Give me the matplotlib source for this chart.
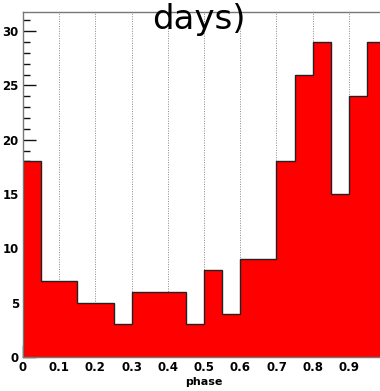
import numpy as np
import matplotlib
matplotlib.use("Agg")
import matplotlib.pyplot as plt
from matplotlib.ticker import MultipleLocator

# phase bins (width 0.05) and counts
bin_edges = np.round(np.arange(0, 1.0001, 0.05), 2)
counts = [18, 7, 7, 5, 5, 3, 6, 6, 6, 3, 8, 4, 9, 9, 18, 26, 29, 15, 24, 29]
x_ticks = [0, 0.1, 0.2, 0.3, 0.4, 0.5, 0.6, 0.7, 0.8, 0.9]
x_tick_labels = ["0", "0.1", "0.2", "0.3", "0.4", "0.5", "0.6", "0.7", "0.8", "0.9"]
y_ticks = [0, 5, 10, 15, 20, 25, 30]

fig = plt.figure(figsize=(3.8, 3.91), dpi=100)
ax = fig.add_axes([0.0605, 0.087, 0.953, 0.882])

ax.stairs(counts, bin_edges, fill=True, color="#ff0000", zorder=2)
ax.stairs(counts, bin_edges, color="#222222", linewidth=1.0, zorder=3)

# dotted vertical grid
for xv in x_ticks[1:]:
    ax.axvline(xv, color="#888888", linestyle=(0, (1, 1.5)), linewidth=0.7, zorder=1)

ax.set_xlim(0, 1.0)
ax.set_ylim(0, 31.75)
ax.set_xticks(x_ticks)
ax.set_xticklabels(x_tick_labels)
ax.set_yticks(y_ticks)
ax.xaxis.set_minor_locator(MultipleLocator(0.02))
ax.yaxis.set_minor_locator(MultipleLocator(1))
ax.tick_params(which="major", direction="in", length=9, width=1.0, color="#111111",
               labelsize=8.5, pad=3)
ax.tick_params(which="minor", direction="in", length=5, width=1.0, color="#111111")
for lab in ax.get_xticklabels() + ax.get_yticklabels():
    lab.set_fontweight("bold")
    lab.set_family("Liberation Sans Narrow")

for s in ax.spines.values():
    s.set_color("#777777")
    s.set_linewidth(1.0)
    s.set_zorder(4)

ax.set_xlabel("phase", fontsize=8, fontweight="bold", labelpad=2,
              family="Liberation Sans Narrow")
fig.text(0.524, 0.925, "days)", fontsize=24.5, ha="center", va="baseline")

fig.savefig("out.png", dpi=100)
